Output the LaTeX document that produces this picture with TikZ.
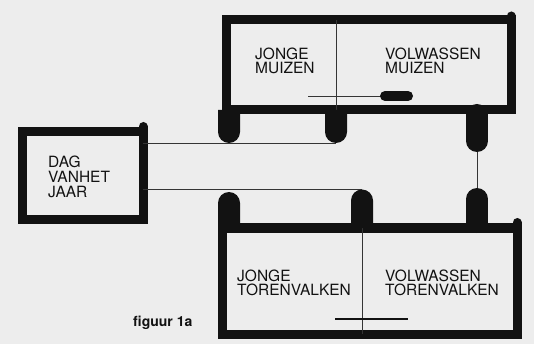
\documentclass[tikz,border=0pt]{standalone}
\usepackage{fontspec}
\setmainfont{TeX Gyre Heros}
\definecolor{paper}{gray}{0.93}
\definecolor{ink}{gray}{0.07}

\begin{document}
\begin{tikzpicture}[x=1pt,y=-1pt,
    box/.style={draw=ink,line width=9pt,outer sep=0pt,inner sep=0pt},
    wire/.style={draw=ink!85,line width=0.8pt},
    capsule/.style={draw=ink,line width=22pt,line cap=round},
    bump/.style={draw=ink,line width=9pt,line cap=round},
    lbl/.style={anchor=north west,inner sep=0pt,align=left,text=ink,font=\fontsize{15.5}{14}\selectfont}]
    \fill[paper] (0,0) rectangle (534,344);
    % koppelpunten
    \coordinate (mfootA) at (229,143);
    \coordinate (mfootB) at (336,143);
    \coordinate (vfootA) at (229,192);
    \coordinate (vfootB) at (362,189.5);
    \coordinate (mcap) at (477,152);
    \coordinate (vcap) at (477,188);
    % blokken
    \node[box,minimum width=121pt,minimum height=88pt] (dag) at (82.5,176) {};
    \node[box,minimum width=285pt,minimum height=90pt] (muizen) at (368.5,65) {};
    \node[box,minimum width=295pt,minimum height=106pt] (valken) at (369.5,281) {};
    % verbindingen
    \draw[wire] (dag.east |- mfootB) -- (mfootB);
    \draw[wire] (dag.east |- vfootB) -- (vfootB);
    \draw[wire] (mcap) -- (vcap);
    \draw[wire] (muizen.north -| mfootB) -- (muizen.south -| mfootB);
    \draw[wire] (valken.north -| vfootB) -- (valken.south -| vfootB);
    % poten
    \fill[ink] (218,110) rectangle (240,132) (229,132) circle[radius=11pt];
    \fill[ink] (325,110) rectangle (347,132) (336,132) circle[radius=11pt];
    \fill[ink] (218,203) rectangle (240,228) (229,203) circle[radius=11pt];
    \fill[ink] (351,200.5) rectangle (373,228) (362,200.5) circle[radius=11pt];
    \draw[capsule] (477,115) -- (477,141);
    \draw[capsule] (477,199) -- (477,222);
    % uitsteeksels rechtsboven
    \draw[bump] (dag.north east) -- ++(0,-5.5);
    \draw[bump] (muizen.north east) -- ++(0,-4);
    \draw[bump] (valken.north east) -- ++(0,-5.5);
    % schuifjes
    \draw[wire] (308,96) -- (384,96);
    \draw[ink,line width=10pt,line cap=round] (385,96) -- (408,96);
    \draw[ink,line width=2pt] (335,319) -- (408,319);
    % teksten
    \node[lbl] (jm) at (255,48) {JONGE\\MUIZEN};
    \node[lbl] (vm) at (385,48) {VOLWASSEN\\MUIZEN};
    \node[lbl] (jt) at (237,270) {JONGE\\TORENVALKEN};
    \node[lbl] (vt) at (385,270) {VOLWASSEN\\TORENVALKEN};
    \node[lbl,font=\fontsize{15.5}{15}\selectfont] (dagtxt) at (48,156) {DAG\\VANHET\\JAAR};
    \node[anchor=base west,inner sep=0pt,text=ink,font=\fontsize{14}{14}\selectfont\bfseries] (fig) at (133,326) {figuur 1a};
\end{tikzpicture}
\end{document}
